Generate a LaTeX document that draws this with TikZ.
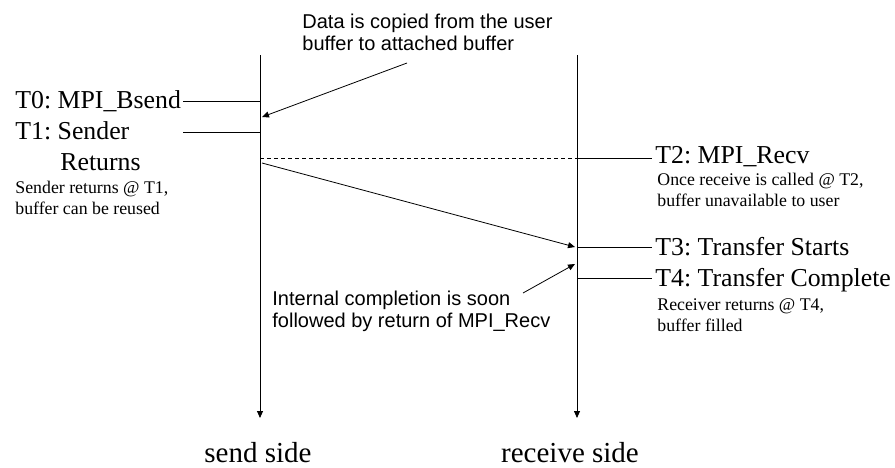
\documentclass[tikz,border=0pt]{standalone}
\usepackage{fontspec}
\setmainfont{Liberation Serif}
\newfontfamily\sansnote{Liberation Sans}
\usetikzlibrary{arrows.meta}
\frenchspacing
\begin{document}
\begin{tikzpicture}[x=1pt,y=-1pt, line width=0.8pt,
  big/.style={font=\frenchspacing\fontsize{25.8}{28}\selectfont, inner sep=0pt, anchor=base west},
  small/.style={font=\frenchspacing\fontsize{17.8}{21}\selectfont, inner sep=0pt, anchor=base west},
  note/.style={font=\frenchspacing\sansnote\fontsize{20}{24}\selectfont, inner sep=0pt, anchor=base west},
  side/.style={font=\fontsize{29}{32}\selectfont, inner sep=0pt, anchor=base},
  arr/.style={-{Triangle[length=7pt,width=6pt]}}]
\useasboundingbox (0,0) rectangle (895,467);
% timelines
\coordinate (s0) at (260,55); \coordinate (s1) at (260,418);
\coordinate (r0) at (577,55); \coordinate (r1) at (577,418);
\draw[arr] (s0) -- (s1);
\draw[arr] (r0) -- (r1);
% send side labels
\node[big] (t0) at (15,108.5) {T0: MPI\_Bsend};
\node[big] (t1) at (15,139) {T1: Sender};
\node[big] (t1b) at (60,170) {Returns};
\node[small] (sr1) at (15,193) {Sender returns @ T1,};
\node[small] (sr2) at (15,214) {buffer can be reused};
% receive side labels
\node[big] (t2) at (655,163) {T2: MPI\_Recv};
\node[small] (rc1) at (657,185) {Once receive is called @ T2,};
\node[small] (rc2) at (657,206) {buffer unavailable to user};
\node[big] (t3) at (655,255) {T3: Transfer Starts};
\node[big] (t4) at (655,286) {T4: Transfer Complete};
\node[small] (rr1) at (657,310) {Receiver returns @ T4,};
\node[small] (rr2) at (657,331) {buffer filled};
% notes
\node[note] (n1) at (302,28) {Data is copied from the user};
\node[note] (n2) at (302,50) {buffer to attached buffer};
\node[note] (n3) at (272,305) {Internal completion is soon};
\node[note] (n4) at (272,327) {followed by return of MPI\_Recv};
% bottom
\node[side] (ss) at (258,462) {send side};
\node[side] (rs) at (570,462) {receive side};
% ticks
\coordinate (a0) at (183,101); \draw (a0) -- (a0 -| s0);
\coordinate (a1) at (183,132); \draw (a1) -- (a1 -| s0);
\coordinate (d0) at (260,158); \coordinate (d1) at (577,158); \coordinate (d2) at (652,158);
\draw[dash pattern=on 4pt off 3pt] (d0) -- (d1);
\draw (d1) -- (d2);
\coordinate (b3) at (577,247); \coordinate (e3) at (652,247); \draw (b3) -- (e3);
\coordinate (b4) at (577,278); \coordinate (e4) at (652,278); \draw (b4) -- (e4);
% arrows
\coordinate (c0) at (407,63); \coordinate (c1) at (262,117);
\draw[arr] (c0) -- (c1);
\coordinate (m0) at (262,163); \coordinate (m1) at (575,247);
\draw[arr] (m0) -- (m1);
\coordinate (i0) at (523,293); \coordinate (i1) at (575,264);
\draw[arr] (i0) -- (i1);
\end{tikzpicture}
\end{document}
